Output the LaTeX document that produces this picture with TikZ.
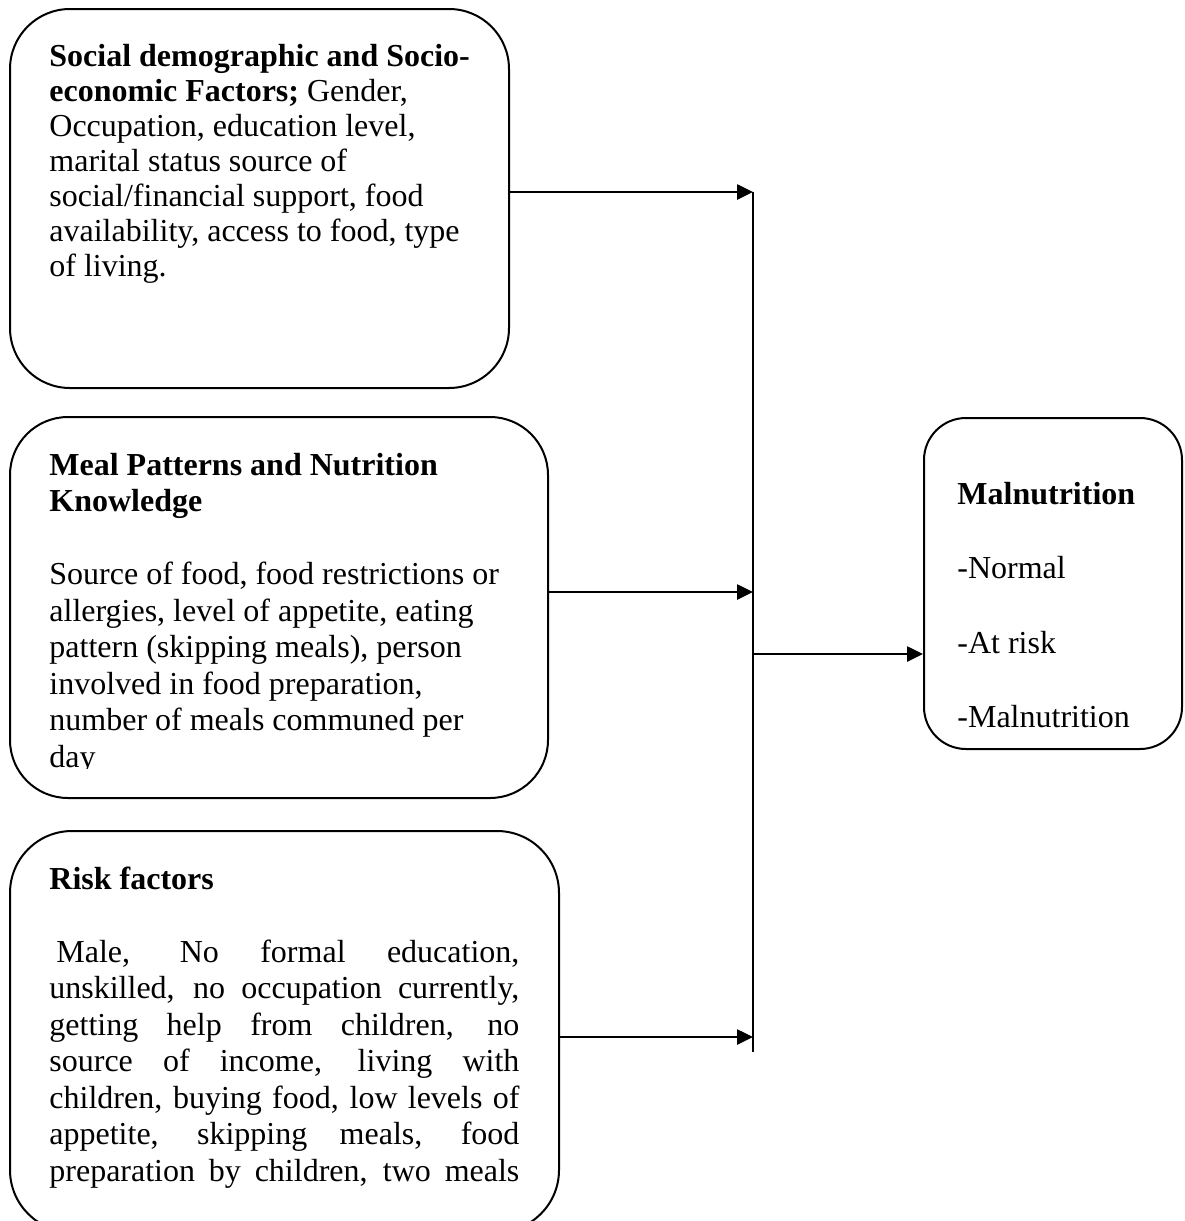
\documentclass[tikz,border=0pt]{standalone}
\usepackage{fontspec}
\setmainfont{Liberation Serif}
\usetikzlibrary{arrows.meta}

\begin{document}
\begin{tikzpicture}[x=0.5pt, y=-0.5pt, >={Triangle[length=8pt,width=7.5pt]}]
\tikzstyle{box} = [draw, line width=1pt, rectangle, rounded corners=30pt, inner sep=0pt]
\tikzstyle{txt} = [anchor=north west, inner sep=0pt, align=left]
\useasboundingbox (0,0) rectangle (1184,1221);
\clip (0,0) rectangle (1184,1221);

\node[box, minimum width=249.5pt, minimum height=189.5pt] (b1) at (259.5, 198.5) {};
\node[box, minimum width=269pt, minimum height=190.5pt, rounded corners=29pt] (b2) at (279, 607.5) {};
\node[box, minimum width=274.5pt, minimum height=200.5pt, rounded corners=31pt] (b3) at (284.5, 1031.5) {};
\node[box, minimum width=129pt, minimum height=165.5pt, rounded corners=21pt] (b4) at (1053, 583.5) {};

\node[txt, font=\fontsize{16}{17.5}\selectfont] (t1) at (49, 42) {\strut\textbf{Social demographic and Socio-}\\
\textbf{economic Factors;} Gender,\\
Occupation, education level,\\
marital status source of\\
social/financial support, food\\
availability, access to food, type\\
of living.};

\begin{scope}
\clip (0,400) rectangle (560,768);
\node[txt, font=\fontsize{16}{18.25}\selectfont] (t2) at (49, 449.45) {\strut\textbf{Meal Patterns and Nutrition}\\
\textbf{Knowledge}\\[18.25pt]
Source of food, food restrictions or\\
allergies, level of appetite, eating\\
pattern (skipping meals), person\\
involved in food preparation,\\
number of meals communed per\\
day};
\end{scope}

\node[txt, font=\fontsize{16}{18.25}\selectfont] (t3) at (49, 863.45) {\strut\textbf{Risk factors}\\[18.25pt]
\makebox[235pt][s]{\hspace*{3.5pt}Male, No formal education,}\\
\makebox[235pt][s]{unskilled, no occupation currently,}\\
\makebox[235pt][s]{getting help from children, no}\\
\makebox[235pt][s]{source of income, living with}\\
\makebox[235pt][s]{children, buying food, low levels of}\\
\makebox[235pt][s]{appetite, skipping meals, food}\\
\makebox[235pt][s]{preparation by children, two meals}};

\node[txt, font=\fontsize{16}{37.25}\selectfont] (t4) at (957, 451.85) {\strut\textbf{Malnutrition}\\
-Normal\\
-At risk\\
-Malnutrition};

\coordinate (j1) at (753, 192);
\coordinate (j2) at (753, 592);
\coordinate (j3) at (753, 1037);
\coordinate (jo) at (753, 654);
\coordinate (jb) at (753, 1052);

\draw[line width=1pt] (j1) -- (jb);
\foreach \from/\to in {b1/j1, b2/j2, b3/j3}
\draw[->, line width=1.3pt] (\to -| \from.east) -- (\to);
\draw[->, line width=1.3pt] (jo) -- (jo -| b4.west);
\end{tikzpicture}
\end{document}
